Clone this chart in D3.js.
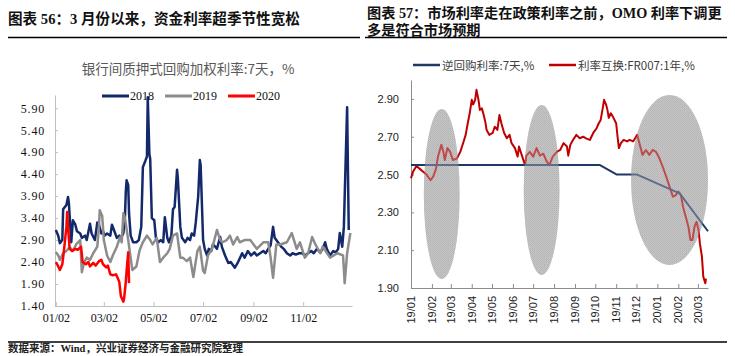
<!DOCTYPE html>
<html><head><meta charset="utf-8">
<script src="https://cdn.jsdelivr.net/npm/d3@7"></script>
<style>
html,body{margin:0;padding:0;background:#fff;}
svg{display:block;}
</style></head>
<body>
<svg id="c" width="735" height="356"></svg>
<script>
// ---------------- LEFT PANEL DATA ----------------
const leftYTicks = [1.4, 1.9, 2.4, 2.9, 3.4, 3.9, 4.4, 4.9, 5.4, 5.9];
const leftXTickDays = [1, 60, 121, 182, 244, 305];
const leftXTickLabels = ["01/02", "03/02", "05/02", "07/02", "09/02", "11/02"];
const leftSeriesNames = ["2018", "2019", "2020"];

const days2018 = [1,4,6,9,10,14,16,17,20,22,25,27,31,33,37,39,43,45,49,52,54,57,59,61,64,68,70,73,76,79,81,84,86,87,88,90,91,93,96,100,103,106,108,111,113,114,116,117,119,122,124,127,130,133,135,138,140,143,145,147,150,151,154,156,160,163,166,168,171,173,176,178,179,182,184,187,189,192,194,197,199,203,205,209,213,216,221,225,230,233,237,241,245,248,252,256,259,262,265,268,270,274,278,281,285,289,292,296,300,304,307,311,315,318,322,326,329,332,334,338,342,345,348,350,353,355,359,360,361];
const rate2018 = [3.13,3.00,2.83,2.90,3.60,3.70,3.88,3.75,2.85,3.35,3.25,3.10,3.05,2.95,3.00,2.90,3.27,3.05,2.90,3.30,3.25,3.05,3.10,3.00,3.05,3.00,3.25,3.10,2.95,3.00,2.95,3.05,3.45,4.00,4.26,4.15,3.50,3.00,2.85,2.85,2.90,3.20,4.56,4.70,4.80,6.15,4.85,4.75,3.40,3.35,2.95,2.85,2.90,2.85,3.42,2.95,2.85,3.00,3.60,3.65,4.50,4.30,3.20,2.95,2.85,2.95,2.90,3.05,3.00,3.30,3.90,4.72,4.60,2.90,2.70,2.55,2.70,2.65,2.80,2.75,2.70,2.97,2.75,2.55,2.38,2.40,2.27,2.40,2.60,2.50,2.65,2.55,2.62,2.55,2.60,2.65,2.60,2.70,2.78,3.20,2.95,2.85,2.75,2.70,2.60,2.55,2.60,2.57,2.60,2.60,2.55,2.60,2.65,2.60,2.70,2.62,2.70,2.85,2.70,2.55,2.65,2.62,2.70,3.06,2.75,3.20,5.92,4.50,3.13];

const days2019 = [1,4,6,10,14,18,22,26,31,33,36,39,43,47,52,54,55,58,60,64,68,71,76,80,82,84,86,90,95,100,104,108,113,117,120,125,129,133,138,141,145,150,154,157,162,166,170,175,178,182,184,188,193,199,203,206,211,215,219,224,227,233,240,248,256,262,265,268,272,277,285,291,297,301,307,311,316,320,326,329,338,347,354,356,359,363];
const rate2019 = [2.63,2.55,2.45,2.60,2.65,2.74,2.65,2.80,2.90,2.17,2.40,2.50,2.45,2.60,2.75,3.20,3.58,3.45,2.90,2.55,2.40,2.55,2.75,2.97,2.85,3.51,3.40,2.90,2.22,2.30,2.67,2.85,3.00,2.90,2.80,2.95,2.40,2.50,2.60,2.70,3.00,3.05,2.50,2.50,2.42,2.50,2.06,2.65,2.75,2.20,2.15,2.55,2.70,3.13,2.90,2.85,2.90,3.00,2.80,2.97,2.85,2.90,2.90,2.70,2.85,2.85,2.50,2.04,2.80,2.80,2.85,3.06,2.70,2.85,2.50,2.60,2.97,2.80,2.60,2.75,2.50,2.60,2.55,1.92,2.60,3.06];

const days2020 = [1,4,6,9,11,14,15,16,18,21,25,28,32,34,38,41,43,47,50,54,57,59,63,65,68,71,75,79,81,84,85,87,88,90,91];
const rate2020 = [2.40,2.30,2.22,2.35,2.66,3.20,3.54,3.20,2.70,2.65,2.70,2.68,2.75,2.40,2.35,2.40,2.30,2.38,2.32,2.42,2.45,2.35,2.28,2.32,2.12,2.10,2.12,1.95,1.62,1.50,1.58,1.95,2.20,2.62,1.92];

// ---------------- RIGHT PANEL DATA ----------------
const rightYTicks = [1.9, 2.1, 2.3, 2.5, 2.7, 2.9];
const rightSeriesNames = ["逆回购利率:7天,%", "利率互换:FR007:1年,%"];
const omoDates = ["2019-01-01","2019-10-08","2019-11-02","2019-12-02","2020-02-03","2020-03-16"];
const omoRates = [2.55, 2.55, 2.50, 2.50, 2.40, 2.20];
// FR007 1Y IRS: days since 2019-01-01
const irsDays = [0,3,8,13,18,23,29,33,37,40,45,48,50,54,58,62,68,73,78,81,84,87,90,92,95,97,100,102,105,107,110,112,116,121,124,128,131,134,138,142,146,149,154,158,160,164,169,171,176,181,186,191,196,201,205,210,216,221,226,231,233,236,240,245,250,255,260,265,270,275,278,281,284,286,289,291,293,296,300,304,306,308,311,315,320,324,329,332,335,339,343,348,353,358,363,368,373,378,383,388,392,396,400,403,407,411,414,417,420,423,426,428,431,433,436,437];
const irsRates = [2.48,2.515,2.545,2.53,2.515,2.50,2.47,2.49,2.53,2.595,2.657,2.62,2.577,2.64,2.62,2.577,2.585,2.62,2.675,2.71,2.77,2.824,2.895,2.87,2.895,2.948,2.895,2.842,2.85,2.824,2.78,2.736,2.71,2.72,2.753,2.736,2.815,2.77,2.72,2.692,2.71,2.666,2.64,2.595,2.648,2.604,2.55,2.60,2.62,2.595,2.64,2.60,2.61,2.57,2.55,2.595,2.62,2.63,2.666,2.648,2.60,2.657,2.683,2.71,2.692,2.70,2.69,2.683,2.72,2.745,2.77,2.789,2.85,2.895,2.87,2.842,2.80,2.824,2.80,2.77,2.70,2.64,2.666,2.683,2.675,2.683,2.675,2.692,2.71,2.657,2.604,2.63,2.604,2.63,2.62,2.586,2.54,2.49,2.436,2.383,2.39,2.41,2.39,2.33,2.277,2.224,2.154,2.154,2.224,2.25,2.207,2.136,2.066,1.96,1.925,1.95];
// highlighted periods (grey ellipses): date span and rate span
const hlStart = ["2019-01-20", "2019-06-17", "2019-11-23"];
const hlEnd   = ["2019-03-14", "2019-08-09", "2020-03-16"];
const hlLow   = [1.948, 1.969, 2.022];
const hlHigh  = [2.847, 2.868, 2.921];

// ---------------- DRAW ----------------
const svg = d3.select("#c");
const CJK = "'Noto Sans CJK SC', 'Noto Sans', sans-serif";
const SERIF = "'Liberation Serif', 'Noto Sans CJK SC', serif";
const SANS = "'Liberation Sans', Arial, sans-serif";

// headings & rules
svg.append("text").attr("x", 8).attr("y", 24)
  .attr("font-family", SERIF).attr("font-weight", "bold").attr("font-size", 14.6).attr("fill", "#111")
  .text("图表 56：3 月份以来，资金利率超季节性宽松");
svg.append("text").attr("x", 367).attr("y", 18)
  .attr("font-family", SERIF).attr("font-weight", "bold").attr("font-size", 14.2).attr("fill", "#111")
  .text("图表 57：市场利率走在政策利率之前，OMO 利率下调更");
svg.append("text").attr("x", 367).attr("y", 35)
  .attr("font-family", SERIF).attr("font-weight", "bold").attr("font-size", 14.2).attr("fill", "#111")
  .text("多是符合市场预期");
svg.append("line").attr("x1", 8).attr("x2", 360).attr("y1", 37.5).attr("y2", 37.5).attr("stroke", "#000").attr("stroke-width", 1.3);
svg.append("line").attr("x1", 365).attr("x2", 727).attr("y1", 37.5).attr("y2", 37.5).attr("stroke", "#000").attr("stroke-width", 1.3);
svg.append("line").attr("x1", 8).attr("x2", 727).attr("y1", 342).attr("y2", 342).attr("stroke", "#000").attr("stroke-width", 1.3);
svg.append("text").attr("x", 8).attr("y", 352)
  .attr("font-family", SERIF).attr("font-weight", "bold").attr("font-size", 10.5).attr("fill", "#222")
  .text("数据来源：Wind，兴业证券经济与金融研究院整理");

// ---------- left chart ----------
const xL = d3.scaleLinear().domain([0, 365]).range([55, 352]);
const yL = d3.scaleLinear().domain([1.4, 6.2]).range([306, 95]);

svg.append("text").attr("x", 188).attr("y", 74).attr("text-anchor", "middle")
  .attr("font-family", CJK).attr("font-size", 13.5).attr("fill", "#595959")
  .text("银行间质押式回购加权利率:7天，%");

const gyL = svg.append("g").attr("transform", `translate(${xL(0)},0)`)
  .call(d3.axisLeft(yL).tickValues(leftYTicks).tickFormat(d3.format(".2f")).tickSize(-3).tickSizeOuter(0).tickPadding(10));
const gxL = svg.append("g").attr("transform", `translate(0,${yL(1.4)})`)
  .call(d3.axisBottom(xL).tickValues(leftXTickDays).tickFormat((d, i) => leftXTickLabels[i]).tickSize(-4).tickSizeOuter(0).tickPadding(7));
[gyL, gxL].forEach(g => {
  g.select(".domain").attr("stroke", "#bfbfbf");
  g.selectAll(".tick line").attr("stroke", "#bfbfbf");
  g.selectAll(".tick text").attr("font-family", SERIF).attr("font-size", 12).attr("fill", "#111");
});
gyL.selectAll(".tick text").attr("letter-spacing", 0.8);

const leftColors = ["#13296b", "#8c8c8c", "#ff0000"];
const leftDays = [days2018, days2019, days2020];
const leftRates = [rate2018, rate2019, rate2020];
const lineL = d3.line().x(d => xL(d[0])).y(d => yL(d[1]));
leftSeriesNames.forEach((name, k) => {
  const pts = leftDays[k].map((d, i) => [d, leftRates[k][i]]);
  svg.append("path").datum(pts).attr("d", lineL).attr("fill", "none")
    .attr("stroke", leftColors[k]).attr("stroke-width", 2.5).attr("stroke-linejoin", "round");
});
// legend left
const legLX = [102, 165, 228];
leftSeriesNames.forEach((name, k) => {
  svg.append("line").attr("x1", legLX[k]).attr("x2", legLX[k] + 27).attr("y1", 96).attr("y2", 96)
    .attr("stroke", leftColors[k]).attr("stroke-width", 3);
  svg.append("text").attr("x", legLX[k] + 28).attr("y", 100)
    .attr("font-family", SERIF).attr("font-size", 12).attr("fill", "#111").text(name);
});

// ---------- right chart ----------
const parse = d3.timeParse("%Y-%m-%d");
const t0 = new Date(2019, 0, 1);
const xR = d3.scaleTime().domain([t0, new Date(2020, 2, 16)]).range([411, 708]);
const yR = d3.scaleLinear().domain([1.9, 3.0]).range([288, 80]);

const defs = svg.append("defs");
const pat = defs.append("pattern").attr("id", "stip").attr("patternUnits", "userSpaceOnUse").attr("width", 2).attr("height", 2);
pat.append("rect").attr("width", 2).attr("height", 2).attr("fill", "#c6c6c6");
pat.append("rect").attr("x", 0).attr("y", 0).attr("width", 1).attr("height", 1).attr("fill", "#b2b2b2");
pat.append("rect").attr("x", 1).attr("y", 1).attr("width", 1).attr("height", 1).attr("fill", "#bababa");

const ell = hlStart.map((s, i) => {
  const xa = xR(parse(s)), xb = xR(parse(hlEnd[i]));
  const ya = yR(hlHigh[i]), yb = yR(hlLow[i]);
  return { cx: (xa + xb) / 2, cy: (ya + yb) / 2, rx: (xb - xa) / 2, ry: (yb - ya) / 2 };
});
svg.append("g").selectAll("ellipse").data(ell).join("ellipse")
  .attr("cx", d => d.cx).attr("cy", d => d.cy).attr("rx", d => d.rx).attr("ry", d => d.ry)
  .attr("fill", "url(#stip)");

const gyR = svg.append("g").attr("transform", `translate(${xR(t0)},0)`)
  .call(d3.axisLeft(yR).tickValues(rightYTicks).tickFormat(d3.format(".2f")).tickSize(-3).tickSizeOuter(0).tickPadding(12));
const months = d3.timeMonth.range(t0, new Date(2020, 2, 2));
const gxR = svg.append("g").attr("transform", `translate(0,${yR(1.9)})`)
  .call(d3.axisBottom(xR).tickValues(months).tickFormat("").tickSize(-4).tickSizeOuter(0));
[gyR, gxR].forEach(g => {
  g.select(".domain").attr("stroke", "#8c8c8c");
  g.selectAll(".tick line").attr("stroke", "#8c8c8c");
  g.selectAll(".tick text").attr("font-family", SANS).attr("font-size", 11).attr("fill", "#222");
});
const fmtM = d3.timeFormat("%y/%m");
svg.append("g").selectAll("text").data(months).join("text")
  .attr("transform", d => `translate(${xR(d) + 4},${yR(1.9) + 8}) rotate(-90)`)
  .attr("text-anchor", "end")
  .attr("font-family", SANS).attr("font-size", 11).attr("fill", "#222")
  .text(d => fmtM(d));

const lineR = d3.line().x(d => xR(d[0])).y(d => yR(d[1]));
const irsPts = irsDays.map((d, i) => [d3.timeDay.offset(t0, d), irsRates[i]]);
const omoPts = omoDates.map((d, i) => [parse(d), omoRates[i]]);
svg.append("path").datum(irsPts).attr("d", lineR).attr("fill", "none")
  .attr("stroke", "#c00000").attr("stroke-width", 2).attr("stroke-linejoin", "round");
svg.append("path").datum(omoPts).attr("d", lineR).attr("fill", "none")
  .attr("stroke", "#1f3864").attr("stroke-width", 2).attr("stroke-linejoin", "round");

// ellipse overlay (semi-transparent, tints lines inside)
svg.append("g").selectAll("ellipse").data(ell).join("ellipse")
  .attr("cx", d => d.cx).attr("cy", d => d.cy).attr("rx", d => d.rx).attr("ry", d => d.ry)
  .attr("fill", "url(#stip)").attr("opacity", 0.4);

// legend right
const rightColors = ["#1f3864", "#c00000"];
const legRX = [413, 549];
rightSeriesNames.forEach((name, k) => {
  svg.append("line").attr("x1", legRX[k]).attr("x2", legRX[k] + 27).attr("y1", 65).attr("y2", 65)
    .attr("stroke", rightColors[k]).attr("stroke-width", 2.5);
  svg.append("text").attr("x", legRX[k] + 29).attr("y", 69.5)
    .attr("font-family", CJK).attr("font-size", 11.5).attr("fill", "#404040").text(name);
});
</script>
</body></html>
